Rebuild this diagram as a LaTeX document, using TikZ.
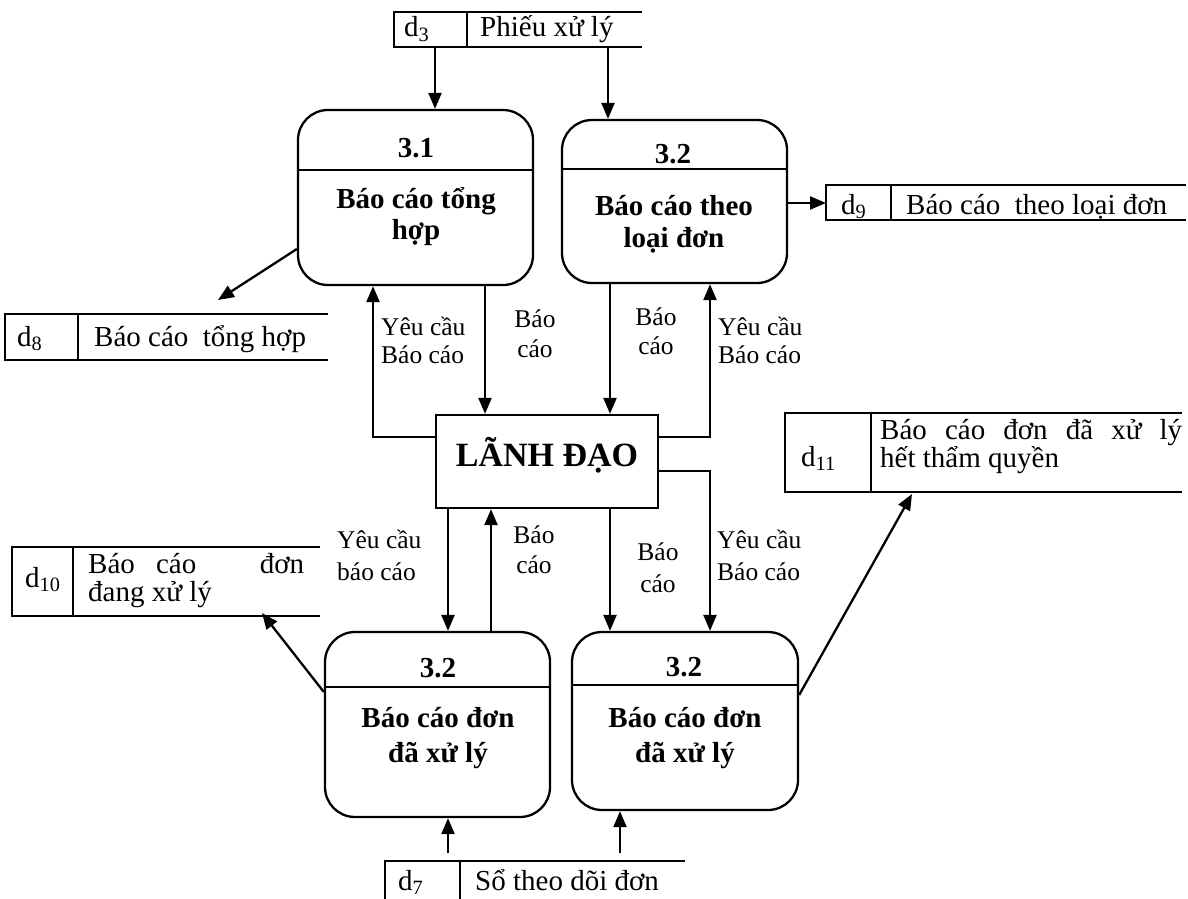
\documentclass[tikz,border=0pt]{standalone}
\usepackage{fontspec}
\setmainfont{Liberation Serif}
\usetikzlibrary{arrows.meta,calc}

\tikzset{
  edge/.style={line width=2.3pt, line cap=butt},
  flow/.style={edge, -{Triangle[length=16pt,width=13pt]}},
  procbox/.style={draw, line width=2.3pt, rounded corners=30pt, inner sep=0pt},
  leadbox/.style={draw, line width=2.3pt, inner sep=0pt},
  storetxt/.style={font=\fontsize{29}{34}\selectfont, inner sep=0pt, anchor=base west},
  lbl/.style={font=\fontsize{25.5}{30}\selectfont, inner sep=0pt, anchor=base west},
  lblc/.style={font=\fontsize{25.5}{30}\selectfont, inner sep=0pt, anchor=base},
  boxtxt/.style={font=\bfseries\fontsize{29}{34}\selectfont, inner sep=0pt, anchor=base},
}

\begin{document}
\begin{tikzpicture}[x=1pt,y=-1pt]
\useasboundingbox (0,0) rectangle (1188,899);

% ---------- processes ----------
\node[procbox, minimum width=235pt, minimum height=175pt] (p31) at (415.5,197.5) {};
\node[procbox, minimum width=225pt, minimum height=163pt] (p32) at (674.5,201.5) {};
\node[procbox, minimum width=225pt, minimum height=185pt] (p33) at (437.5,724.5) {};
\node[procbox, minimum width=226pt, minimum height=178pt] (p34) at (685,721) {};

\draw[edge] (p31.west |- 0,170) -- (p31.east |- 0,170);
\draw[edge] (p32.west |- 0,169) -- (p32.east |- 0,169);
\draw[edge] (p33.west |- 0,687) -- (p33.east |- 0,687);
\draw[edge] (p34.west |- 0,685) -- (p34.east |- 0,685);

\node[boxtxt] (t31n) at (416,157) {3.1};
\node[boxtxt] (t31a) at (416,208) {Báo cáo tổng};
\node[boxtxt] (t31b) at (416,239) {hợp};

\node[boxtxt] (t32n) at (673,163) {3.2};
\node[boxtxt] (t32a) at (674,215) {Báo cáo theo};
\node[boxtxt] (t32b) at (674,247) {loại đơn};

\node[boxtxt] (t33n) at (438,677) {3.2};
\node[boxtxt] (t33a) at (438,727) {Báo cáo đơn};
\node[boxtxt] (t33b) at (438,762) {đã xử lý};

\node[boxtxt] (t34n) at (684,676) {3.2};
\node[boxtxt] (t34a) at (685,727) {Báo cáo đơn};
\node[boxtxt] (t34b) at (685,762) {đã xử lý};

% ---------- external entity ----------
\node[leadbox, minimum width=222pt, minimum height=93pt] (ld) at (547,461.5) {};
\node[font=\bfseries\fontsize{34}{40}\selectfont, inner sep=0pt, anchor=base] (ldtxt) at (547,466) {LÃNH ĐẠO};

% ---------- data stores ----------
% d3
\draw[edge] (642,12) -- (394,12) -- (394,47) -- (642,47);
\draw[edge] (467,12) -- (467,47);
\node[storetxt] (d3id) at (404,37) {d\textsubscript{3}};
\node[storetxt] (d3nm) at (480,37) {Phiếu xử lý};
\coordinate (d3a) at (435,47);
\coordinate (d3b) at (608,47);

% d8
\draw[edge] (328,314) -- (5,314) -- (5,360) -- (328,360);
\draw[edge] (78,314) -- (78,360);
\node[storetxt] (d8id) at (17,346) {d\textsubscript{8}};
\node[storetxt] (d8nm) at (94,346) {Báo cáo \ tổng hợp};
\coordinate (d8in) at (218,300);

% d9
\draw[edge] (1186,185) -- (826,185) -- (826,220) -- (1186,220);
\draw[edge] (891,185) -- (891,220);
\node[storetxt] (d9id) at (841,214) {d\textsubscript{9}};
\node[storetxt] (d9nm) at (906,214) {Báo cáo \ theo loại đơn};
\coordinate (d9in) at (826,203);

% d10
\draw[edge] (320,547) -- (12,547) -- (12,616) -- (320,616);
\draw[edge] (73,547) -- (73,616);
\node[storetxt] (d10id) at (25,587) {d\textsubscript{10}};
\node[storetxt] (d10a) at (88,573) {\hbox to 216pt{Báo\hfil cáo\hfil\hfil\hfil đơn}};
\node[storetxt] (d10b) at (88,601) {đang xử lý};
\coordinate (d10in) at (262,613);

% d11
\draw[edge] (1182,413) -- (785,413) -- (785,492) -- (1182,492);
\draw[edge] (871,413) -- (871,492);
\node[storetxt] (d11id) at (801,466) {d\textsubscript{11}};
\node[storetxt] (d11a) at (880,439) {\hbox to 302pt{Báo\hfil cáo\hfil đơn\hfil đã\hfil xử\hfil lý}};
\node[storetxt] (d11b) at (880,467) {hết thẩm quyền};
\coordinate (d11in) at (912,494);

% d7
\draw[edge] (685,861) -- (385,861) -- (385,899);
\draw[edge] (460,861) -- (460,899);
\node[storetxt] (d7id) at (398,890) {d\textsubscript{7}};
\node[storetxt] (d7nm) at (475,890) {Sổ theo dõi đơn};
\coordinate (d7a) at (448,853);
\coordinate (d7b) at (620,853);

% ---------- flows ----------
\draw[flow] (d3a) -- (d3a |- p31.north);
\draw[flow] (d3b) -- (d3b |- p32.north);

\draw[flow] (p31.west |- 0,249) -- (d8in);
\draw[flow] (p32.east |- d9in) -- (d9in);

\coordinate (c1) at (485,0);
\coordinate (c2) at (610,0);
\coordinate (l1) at (373,437);
\coordinate (r1) at (710,437);
\coordinate (r2) at (710,471);
\coordinate (c3) at (448,0);
\coordinate (c4) at (491,0);

\draw[flow] (c1 |- p31.south) -- (c1 |- ld.north);
\draw[flow] (ld.west |- l1) -- (l1) -- (l1 |- p31.south);
\draw[flow] (c2 |- p32.south) -- (c2 |- ld.north);
\draw[flow] (ld.east |- r1) -- (r1) -- (r1 |- p32.south);

\draw[flow] (c3 |- ld.south) -- (c3 |- p33.north);
\draw[flow] (c4 |- p33.north) -- (c4 |- ld.south);
\draw[flow] (c2 |- ld.south) -- (c2 |- p34.north);
\draw[flow] (ld.east |- r2) -- (r2) -- (r2 |- p34.north);

\draw[flow] (p33.west |- 0,692) -- (d10in);
\draw[flow] (p34.east |- 0,695) -- (d11in);

\draw[flow] (d7a) -- (d7a |- p33.south);
\draw[flow] (d7b) -- (d7b |- p34.south);

% ---------- flow labels ----------
\node[lbl] (y1a) at (381,335) {Yêu cầu};
\node[lbl] (y1b) at (381,363) {Báo cáo};
\node[lblc] (b1a) at (535,327) {Báo};
\node[lblc] (b1b) at (535,357) {cáo};
\node[lblc] (b2a) at (656,325) {Báo};
\node[lblc] (b2b) at (656,354) {cáo};
\node[lbl] (y2a) at (718,335) {Yêu cầu};
\node[lbl] (y2b) at (718,363) {Báo cáo};

\node[lbl] (y3a) at (337,548) {Yêu cầu};
\node[lbl] (y3b) at (337,580) {báo cáo};
\node[lblc] (b3a) at (534,543) {Báo};
\node[lblc] (b3b) at (534,573) {cáo};
\node[lblc] (b4a) at (658,560) {Báo};
\node[lblc] (b4b) at (658,592) {cáo};
\node[lbl] (y4a) at (717,548) {Yêu cầu};
\node[lbl] (y4b) at (717,580) {Báo cáo};
\end{tikzpicture}
\end{document}
